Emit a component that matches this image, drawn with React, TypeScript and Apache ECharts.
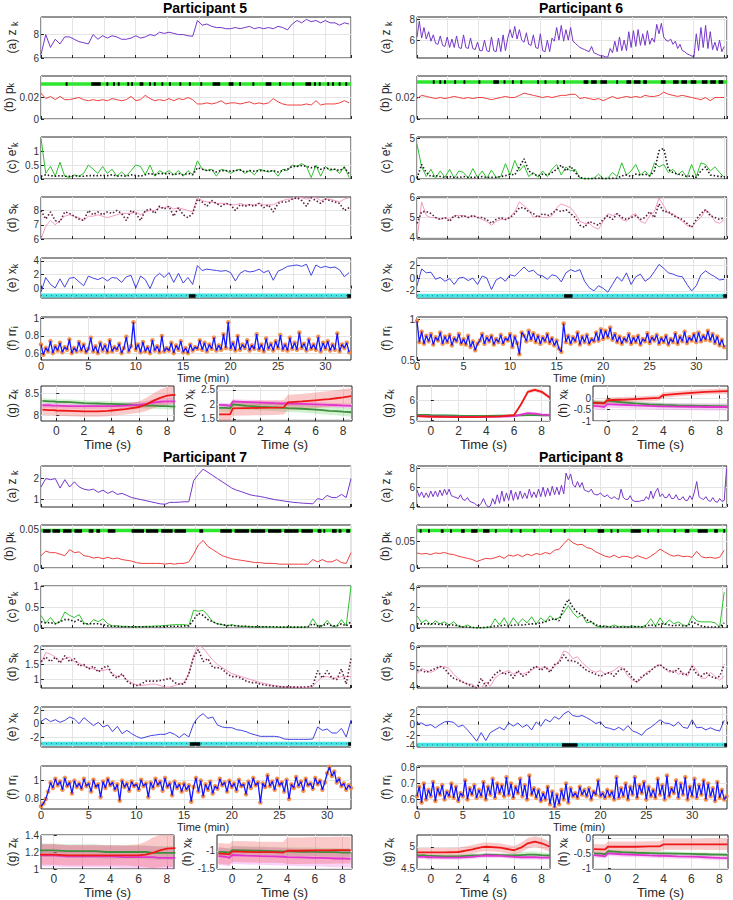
import React, { useEffect, useRef } from "react";
import * as echarts from "echarts";

// ---------- shared ----------
const TS = [-1, -0.5, -0.2, 0, 1, 2, 3, 3.7, 4, 5, 6, 6.5, 7, 7.5, 8, 8.6];
const TICKS_S = [0, 2, 4, 6, 8];
const TICKS_MIN = [0, 5, 10, 15, 20, 25, 30];

// ---------- Participant 5 ----------
const p5Z = [6.3,8.0,6.9,7.6,7.2,7.8,7.8,7.6,7.4,7.3, 7.2,8.0,7.6,7.9,7.7,7.9,7.8,7.6,7.6,7.7, 7.9,7.7,7.8,8.0,7.9,8.2,8.1,8.2,8.1,8.0, 8.0,7.9,7.85,9.2,8.8,8.9,8.7,8.6,8.6,8.5, 8.5,8.6,8.5,8.6,8.7,8.5,8.6,8.5,8.6,8.5, 8.7,8.6,8.4,8.9,9.2,9.0,9.3,9.1,9.2,9.0, 9.2,9.0,9.0,8.8,9.0,8.9];
const p5P = [0.024,0.019,0.021,0.018,0.021,0.018,0.018,0.019,0.020,0.018, 0.017,0.018,0.017,0.018,0.017,0.019,0.018,0.017,0.018,0.021, 0.017,0.018,0.022,0.019,0.017,0.018,0.017,0.019,0.017,0.019, 0.018,0.020,0.018,0.014,0.014,0.015,0.014,0.015,0.017,0.014, 0.015,0.015,0.014,0.015,0.016,0.014,0.015,0.014,0.015,0.019, 0.016,0.014,0.013,0.013,0.013,0.013,0.014,0.013,0.017,0.013, 0.014,0.014,0.014,0.015,0.017,0.015];
const p5E = [1.45,0.2,0.45,0.1,0.6,0.1,0.05,0.15,0.1,0.2, 0.5,0.35,0.2,0.45,0.2,0.35,0.1,0.25,0.1,0.3, 0.5,0.45,0.15,0.5,0.1,0.3,0.2,0.3,0.15,0.3, 0.1,0.3,0.15,0.65,0.35,0.3,0.35,0.1,0.35,0.3, 0.2,0.3,0.35,0.2,0.3,0.15,0.35,0.3,0.25,0.3, 0.1,0.35,0.3,0.5,0.45,0.55,0.45,0.05,0.5,0.1, 0.45,0.3,0.35,0.2,0.45,0.05];
const p5Ed = [0.10,0.15,0.12,0.10,0.12,0.10,0.10,0.12,0.10,0.10, 0.12,0.12,0.12,0.13,0.12,0.15,0.10,0.12,0.10,0.15, 0.12,0.10,0.15,0.20,0.15,0.20,0.18,0.20,0.15,0.20, 0.15,0.20,0.15,0.40,0.35,0.30,0.32,0.25,0.30,0.30, 0.28,0.30,0.32,0.25,0.30,0.28,0.30,0.30,0.28,0.30, 0.25,0.30,0.35,0.45,0.45,0.48,0.45,0.40,0.45,0.35, 0.40,0.35,0.35,0.30,0.40,0.20];
const p5S = [6.0,6.9,7.3,7.0,7.3,7.6,7.7,7.6,7.5,7.3, 7.6,7.6,7.7,7.6,7.5,7.6,7.7,7.8,7.8,7.8, 7.9,7.7,7.9,8.0,8.0,8.2,8.2,8.3,8.1,8.2, 8.1,8.0,7.9,8.9,8.7,8.6,8.6,8.5,8.5,8.5, 8.4,8.4,8.5,8.4,8.4,8.4,8.5,8.4,8.4,8.4, 8.6,8.7,8.8,8.8,8.9,8.9,8.8,8.9,8.9,8.7, 8.8,8.8,8.7,8.6,8.8,8.9];
const p5Sd = [8.0,7.4,7.9,7.3,7.2,7.9,7.8,7.6,7.4,7.3, 8.0,7.7,7.9,7.7,7.9,7.8,8.0,7.8,7.3,8.0, 7.8,7.3,8.0,8.1,7.8,8.3,8.1,8.3,7.6,8.2, 7.7,7.5,7.8,8.8,8.6,8.3,8.7,8.5,8.3,8.5, 8.4,8.0,8.4,8.3,8.4,8.3,8.5,8.2,8.4,7.9, 8.5,8.6,8.6,8.8,8.9,8.7,8.3,8.9,8.7,8.5, 8.8,8.7,8.6,8.5,8.0,8.2];
const p5X = [-0.5,1.6,0.6,0.1,1.4,0.2,1.5,1.6,1.0,0.4, 1.8,1.5,1.3,1.6,1.1,1.6,1.5,0.9,1.7,1.9, 0.1,1.8,1.3,0.0,1.6,2.2,1.6,2.3,0.9,2.2, 0.8,1.6,0.6,3.3,2.6,2.8,2.7,2.6,2.5,2.6, 2.3,1.1,2.2,2.6,2.4,2.5,2.8,2.3,2.6,1.2, 2.5,2.8,3.2,3.3,3.4,3.2,3.5,1.9,3.4,3.0, 3.2,3.0,3.1,2.7,1.7,2.3];
const p5RR = [0.70,0.58,0.66,0.62,0.74,0.60,0.68,0.63,0.72,0.61,0.67,0.64,0.76,0.60,0.66,0.62,0.73,0.63,0.70,0.61, 0.65,0.78,0.62,0.68,0.60,0.72,0.63,0.69,0.61,0.75,0.62,0.67,0.64,0.71,0.60,0.66,0.79,0.62,0.68,0.96, 0.64,0.70,0.61,0.73,0.62,0.67,0.60,0.75,0.63,0.68,0.61,0.80,0.62,0.66,0.63,0.72,0.60,0.69,0.64,0.74, 0.61,0.66,0.60,0.70,0.63,0.67,0.65,0.75,0.64,0.72,0.62,0.70,0.65,0.78,0.63,0.69,0.64,0.82,0.66,0.96, 0.65,0.72,0.63,0.80,0.64,0.70,0.66,0.75,0.63,0.69,0.65,0.82,0.64,0.70,0.62,0.77,0.65,0.71,0.63,0.74, 0.66,0.81,0.64,0.70,0.63,0.78,0.65,0.72,0.64,0.84,0.66,0.71,0.63,0.76,0.65,0.70,0.64,0.79,0.62,0.72, 0.65,0.74,0.63,0.70,0.64,0.83,0.62,0.70,0.66,0.72,0.61];
const p5PEv = [[2.6,2.8],[5.3,6.3],[6.9,7.1],[7.6,7.8],[8.1,8.3],[9.1,9.3],[9.5,9.7],[10.4,10.8],[11.4,11.6],[11.9,12.1],[12.7,12.9],[13.5,13.7],[14.6,14.8],[15.6,15.8],[16.8,17.0],[18.1,18.9],[19.8,20.3],[20.9,21.1],[22.3,22.5],[23.7,24.3],[25.1,25.3],[26.5,26.7],[27.9,28.5],[28.8,29.0],[29.3,29.5],[30.2,30.4],[30.7,30.9],[31.4,31.6],[32.1,32.3]];
const p5XEv = [[15.6,16.3],[32.3,32.7]];
const p5gG = [8.33,8.32,8.32,8.31,8.30,8.28,8.27,8.26,8.26,8.25,8.23,8.22,8.22,8.21,8.21,8.20];
const p5gM = [8.23,8.23,8.22,8.22,8.21,8.21,8.21,8.21,8.21,8.22,8.24,8.26,8.29,8.31,8.32,8.32];
const p5gR = [8.13,8.12,8.12,8.11,8.10,8.09,8.09,8.10,8.11,8.14,8.19,8.25,8.33,8.40,8.45,8.47];
const p5gGw = [0.06,0.06,0.06,0.06,0.06,0.06,0.06,0.06,0.06,0.06,0.07,0.07,0.07,0.07,0.07,0.07];
const p5gMw = [0.06,0.06,0.06,0.06,0.06,0.06,0.06,0.06,0.06,0.07,0.07,0.07,0.08,0.08,0.08,0.08];
const p5gRw = [0.12,0.12,0.12,0.12,0.12,0.12,0.12,0.12,0.12,0.12,0.13,0.15,0.17,0.19,0.20,0.20];
const p5hG = [1.88,1.88,1.86,2.00,1.95,1.92,1.90,1.88,1.87,1.85,1.82,1.80,1.78,1.77,1.75,1.73];
const p5hM = [1.98,1.97,1.95,2.10,2.08,2.06,2.04,2.03,2.03,2.02,2.00,1.99,1.98,1.97,1.96,1.95];
const p5hR = [1.66,1.66,1.66,1.86,1.87,1.88,1.89,1.90,2.07,2.10,2.14,2.16,2.18,2.21,2.24,2.28];
const p5hGw = [0.13,0.13,0.13,0.13,0.13,0.13,0.13,0.13,0.13,0.13,0.14,0.14,0.14,0.14,0.15,0.15];
const p5hMw = [0.08,0.08,0.08,0.08,0.08,0.08,0.08,0.08,0.08,0.08,0.08,0.08,0.08,0.08,0.08,0.08];
const p5hRw = [0.25,0.25,0.25,0.25,0.25,0.25,0.25,0.25,0.26,0.26,0.27,0.27,0.28,0.28,0.28,0.28];

// ---------- Participant 6 ----------
const p6Z = [6.3,7.8,6.2,7.2,6.1,6.8,5.9,6.5,5.7,5.6,6.4,5.5,5.4,6.3,5.3,6.1,5.3,6.4,5.3,5.2, 6.5,5.3,5.2,6.2,5.2,5.1,5.8,5.0,5.0,6.0,5.0,4.9,6.3,5.0,4.9,6.2,4.9,6.5,5.0,6.2, 7.0,6.2,7.3,6.1,7.0,6.0,5.8,6.7,5.6,5.5,6.5,5.3,5.2,6.6,5.0,4.9,6.0,4.9,6.2,5.9, 7.2,6.0,7.4,5.9,7.0,6.0,7.2,5.9,5.7,5.5,5.3,5.2,5.1,5.0,4.9,5.4,4.8,4.7,4.6,4.5, 4.5,4.4,4.4,5.2,4.8,5.9,4.9,6.3,5.0,6.0,5.0,6.8,5.3,6.9,5.4,7.0,5.5,6.6,5.5,6.9, 5.6,6.2,5.8,7.5,6.6,7.6,6.3,6.0,5.9,6.1,5.6,5.9,5.2,5.6,5.0,4.9,4.7,4.6,4.5,4.4, 6.6,5.0,7.2,5.3,7.4,5.2,6.8,5.1,5.8,5.0,6.0,4.9,5.4];
const p6P = [0.019,0.022,0.021,0.020,0.019,0.020,0.019,0.020,0.021,0.020, 0.019,0.020,0.019,0.020,0.020,0.019,0.018,0.019,0.020,0.021, 0.020,0.020,0.022,0.024,0.023,0.022,0.021,0.020,0.021,0.020, 0.021,0.022,0.022,0.023,0.023,0.019,0.020,0.019,0.018,0.019, 0.017,0.019,0.021,0.019,0.020,0.021,0.020,0.021,0.020,0.022, 0.021,0.021,0.022,0.025,0.023,0.022,0.021,0.022,0.021,0.020, 0.019,0.018,0.020,0.017,0.020,0.020,0.020];
const p6E = [4.3,1.5,0.3,1.2,0.1,1.0,0.2,1.2,0.1,1.0, 0.8,0.1,1.3,0.2,1.0,0.1,1.1,0.2,0.3,1.9, 0.5,2.3,1.0,1.7,0.3,0.8,0.2,1.0,0.3,1.2, 1.8,0.5,1.5,1.0,1.2,0.1,0.05,0.05,0.1,0.6, 0.05,0.1,0.8,0.3,2.0,0.5,1.0,1.8,0.5,1.0, 0.3,2.0,1.5,1.8,0.8,1.2,0.5,1.0,0.2,1.8, 0.3,2.0,1.8,1.0,1.5,0.8,0.2];
const p6Ed = [0.1,1.8,0.8,0.3,0.4,0.3,0.2,0.3,0.2,0.2, 0.3,0.2,0.2,0.2,0.3,0.2,0.2,0.2,0.3,0.4, 0.6,0.5,1.5,2.5,1.0,0.6,0.4,0.6,0.5,0.8, 1.2,1.7,1.0,1.6,0.8,0.2,0.05,0.05,0.05,0.1, 0.05,0.05,0.1,0.1,0.4,0.5,0.3,0.6,0.5,0.6, 0.4,1.0,3.5,3.8,1.2,0.8,0.6,0.5,0.3,0.4, 0.2,1.0,1.5,0.5,0.4,0.3,0.3];
const p6S = [3.9,5.8,5.1,5.0,5.0,4.9,5.0,4.9,5.1,5.1, 5.1,5.0,5.1,5.0,4.9,4.8,4.6,4.8,4.9,4.9, 5.0,5.3,5.8,5.6,5.4,5.0,5.1,5.0,5.0,5.1, 5.5,5.7,5.6,5.5,5.2,4.8,4.7,4.7,4.5,4.4, 4.8,5.2,5.1,5.2,4.9,4.8,5.1,5.2,4.8,4.7, 5.1,5.3,6.0,5.6,5.2,5.2,5.0,4.8,4.6,4.5, 4.8,5.0,5.4,5.2,4.8,4.7,4.9];
const p6Sd = [4.7,5.3,5.3,5.2,5.0,4.9,5.0,4.8,5.1,5.0, 5.1,5.0,5.1,5.0,5.0,4.9,4.7,4.9,5.0,4.9, 5.0,5.2,5.5,5.5,5.3,5.2,5.0,5.2,5.1,5.2, 5.4,5.3,5.4,5.2,5.0,4.6,4.5,4.8,4.7,4.6, 4.9,5.1,4.9,5.2,5.0,4.9,5.0,5.1,4.9,5.0, 5.3,5.0,5.7,5.3,5.3,5.1,5.0,4.9,4.7,4.5, 4.9,5.2,5.4,5.1,5.0,4.9,5.0];
const p6X = [-1.2,1.4,0.8,0.9,-0.2,0.1,-0.5,-0.1,-1.0,0.0, 0.1,-0.4,0.0,-1.0,0.3,0.0,-1.8,-0.3,0.1,-0.5, 0.5,0.3,1.0,1.7,1.0,1.2,0.5,0.3,-0.2,0.5, 0.3,-0.6,0.8,1.3,1.0,1.3,-0.5,-1.5,-2.0,-1.2, -1.6,-2.2,-1.0,0.2,-0.5,0.8,-1.0,0.2,0.6,-0.5, 0.0,1.0,2.1,1.5,0.8,0.6,0.3,0.2,-1.0,-2.0, -1.2,0.5,1.1,0.6,0.2,-0.3,-0.2];
const p6RR = [0.98,0.72,0.85,0.70,0.80,0.73,0.82,0.69,0.78,0.74,0.84,0.70,0.79,0.72,0.81,0.68,0.77,0.73,0.82,0.70, 0.76,0.69,0.80,0.66,0.73,0.62,0.70,0.74,0.82,0.70,0.78,0.73,0.80,0.69,0.76,0.72,0.81,0.70,0.77,0.74, 0.82,0.66,0.79,0.71,0.57,0.84,0.80,0.73,0.86,0.75,0.83,0.72,0.80,0.70,0.78,0.73,0.82,0.71,0.77,0.68, 0.74,0.64,0.60,0.95,0.72,0.80,0.70,0.78,0.73,0.84,0.69,0.79,0.72,0.81,0.70,0.76,0.73,0.84,0.74,0.88, 0.76,0.86,0.78,0.90,0.75,0.82,0.72,0.79,0.70,0.77,0.73,0.82,0.70,0.78,0.72,0.80,0.69,0.76,0.73,0.83, 0.71,0.78,0.74,0.81,0.70,0.77,0.72,0.80,0.69,0.76,0.72,0.83,0.70,0.79,0.73,0.85,0.71,0.78,0.74,0.82, 0.72,0.84,0.73,0.80,0.75,0.86,0.74,0.82,0.71,0.79,0.68,0.75,0.66];
const p6PEv = [[1.7,1.9],[2.4,2.6],[2.9,3.1],[4.0,4.2],[5.0,5.2],[6.6,6.8],[8.2,8.8],[9.3,9.5],[10.2,10.4],[11.1,11.3],[12.9,13.1],[13.7,13.9],[15.0,15.2],[15.7,15.9],[17.9,18.4],[18.7,19.3],[19.7,20.4],[21.4,21.6],[22.5,23.0],[23.3,24.0],[24.3,24.7],[26.2,26.7],[27.5,28.1],[28.4,29.0],[29.4,30.0],[30.6,31.2],[31.5,32.1],[32.4,32.9]];
const p6XEv = [[15.8,16.7],[32.9,33.3]];
const p6gG = [5.27,5.26,5.26,5.25,5.24,5.22,5.21,5.21,5.21,5.22,5.23,5.24,5.25,5.25,5.24,5.24];
const p6gM = [5.20,5.19,5.19,5.18,5.17,5.16,5.16,5.16,5.16,5.17,5.20,5.28,5.35,5.33,5.28,5.25];
const p6gR = [5.20,5.19,5.18,5.18,5.16,5.15,5.15,5.16,5.17,5.19,5.25,5.80,6.45,6.55,6.45,6.15];
const p6gGw = [0.05,0.05,0.05,0.05,0.05,0.05,0.05,0.05,0.05,0.05,0.05,0.05,0.05,0.05,0.05,0.05];
const p6gMw = [0.05,0.05,0.05,0.05,0.05,0.05,0.05,0.05,0.05,0.05,0.06,0.07,0.08,0.08,0.08,0.08];
const p6gRw = [0.05,0.05,0.05,0.05,0.05,0.05,0.05,0.05,0.05,0.05,0.06,0.08,0.10,0.10,0.10,0.10];
const p6hG = [-0.18,-0.19,-0.20,-0.10,-0.17,-0.22,-0.26,-0.28,-0.29,-0.31,-0.32,-0.33,-0.33,-0.34,-0.34,-0.35];
const p6hM = [-0.33,-0.35,-0.38,-0.25,-0.28,-0.31,-0.33,-0.35,-0.35,-0.36,-0.37,-0.37,-0.38,-0.38,-0.38,-0.38];
const p6hR = [-0.20,-0.21,-0.22,-0.08,-0.06,-0.03,0.00,0.02,0.15,0.20,0.25,0.27,0.29,0.30,0.31,0.32];
const p6hGw = [0.10,0.10,0.10,0.10,0.10,0.10,0.10,0.10,0.10,0.10,0.10,0.10,0.10,0.10,0.10,0.10];
const p6hMw = [0.15,0.15,0.15,0.15,0.15,0.15,0.15,0.15,0.15,0.15,0.15,0.15,0.15,0.15,0.15,0.15];
const p6hRw = [0.12,0.12,0.12,0.12,0.12,0.12,0.12,0.12,0.12,0.12,0.12,0.12,0.12,0.12,0.12,0.12];

// ---------- Participant 7 ----------
const p7Z = [1.6,2.0,1.95,2.0,1.55,1.95,1.6,1.85,1.6,1.5, 1.45,1.5,1.35,1.45,1.3,1.4,1.25,1.3,1.2,1.1, 1.05,1.0,0.95,0.9,0.85,0.8,0.78,0.87,0.87,0.88, 0.9,0.9,1.9,2.2,2.45,2.3,2.15,2.0,1.85,1.7, 1.55,1.45,1.38,1.3,1.22,1.18,1.15,1.1,1.05,1.0, 0.97,0.93,0.9,0.87,0.85,0.83,0.82,0.8,1.05,1.0, 1.2,1.1,1.1,1.25,1.1,2.0];
const p7P = [0.016,0.022,0.020,0.020,0.018,0.016,0.024,0.020,0.021,0.016, 0.015,0.013,0.014,0.012,0.014,0.012,0.013,0.011,0.010,0.009, 0.007,0.006,0.006,0.006,0.006,0.006,0.005,0.006,0.005,0.006, 0.006,0.008,0.018,0.030,0.036,0.028,0.024,0.020,0.016,0.014, 0.012,0.011,0.010,0.009,0.008,0.007,0.007,0.006,0.006,0.006, 0.005,0.005,0.005,0.005,0.005,0.005,0.005,0.011,0.008,0.011, 0.008,0.008,0.011,0.007,0.006,0.020];
const p7E = [0.3,0.12,0.25,0.1,0.15,0.38,0.3,0.25,0.32,0.12, 0.08,0.2,0.15,0.22,0.1,0.05,0.05,0.04,0.04,0.03, 0.03,0.03,0.04,0.04,0.05,0.05,0.06,0.07,0.08,0.08, 0.08,0.06,0.42,0.4,0.42,0.3,0.15,0.1,0.08,0.05, 0.08,0.05,0.04,0.04,0.03,0.03,0.03,0.03,0.02,0.02, 0.02,0.02,0.02,0.02,0.02,0.02,0.02,0.22,0.05,0.05, 0.18,0.04,0.04,0.2,0.05,1.0];
const p7Ed = [0.15,0.12,0.13,0.1,0.15,0.2,0.2,0.15,0.2,0.1, 0.1,0.1,0.1,0.08,0.05,0.04,0.04,0.03,0.03,0.03, 0.03,0.03,0.03,0.03,0.03,0.03,0.04,0.04,0.04,0.04, 0.05,0.05,0.2,0.35,0.3,0.2,0.15,0.1,0.08,0.06, 0.06,0.05,0.04,0.04,0.03,0.03,0.03,0.03,0.03,0.03, 0.02,0.02,0.02,0.02,0.02,0.02,0.03,0.1,0.05,0.05, 0.1,0.05,0.05,0.1,0.05,0.15];
const p7S = [1.55,1.9,1.85,1.75,1.6,1.7,1.75,1.6,1.55,1.45, 1.4,1.35,1.3,1.3,1.35,1.2,1.1,1.15,1.0,0.9, 0.82,0.8,0.82,0.85,0.85,0.8,0.75,0.75,0.8,0.85, 0.9,1.2,1.8,2.15,2.05,1.85,1.65,1.5,1.4,1.3, 1.2,1.15,1.1,1.05,1.0,0.95,0.9,0.87,0.83,0.8, 0.78,0.77,0.75,0.75,0.74,0.74,0.74,0.78,0.95,1.1, 1.1,1.05,1.05,1.1,1.1,1.1];
const p7Sd = [1.6,1.75,1.6,1.75,1.55,1.8,1.6,1.7,1.45,1.5, 1.35,1.45,1.25,1.4,1.45,1.15,1.05,1.2,0.95,0.85, 0.8,0.85,0.95,0.95,0.95,0.97,1.0,1.05,0.9,0.85, 0.85,1.2,1.75,2.0,1.6,1.7,1.4,1.4,1.35,1.2, 1.1,1.1,1.05,0.95,0.9,0.9,0.85,0.82,0.8,0.78, 0.76,0.75,0.75,0.75,0.75,0.75,0.76,0.8,1.3,1.05, 1.3,1.05,1.0,1.35,0.85,1.7];
const p7X = [0.3,0.8,0.3,0.6,0.2,0.5,1.0,0.7,0.0,0.9, 0.3,-0.3,0.2,-0.5,-0.2,-1.2,-0.4,-1.5,-1.0,-1.5, -1.9,-2.2,-2.0,-1.8,-1.7,-1.6,-1.6,-1.3,-1.6,-2.1, -1.5,-2.0,0.0,1.0,1.5,0.8,1.0,-0.2,-0.5,-0.6, -0.6,-0.9,-1.0,-1.2,-1.5,-1.7,-1.9,-1.9,-1.9,-1.9, -2.0,-2.3,-2.35,-2.35,-2.35,-2.35,-2.35,-2.3,-0.5,-1.0, -0.8,-1.4,-1.4,-0.7,-2.0,0.5];
const p7RR = [0.72,0.75,0.80,0.88,0.98,0.92,1.02,0.95,0.99,0.90,1.03,0.94,0.98,0.86,1.00,0.93,0.97,0.91,1.02,0.94, 0.97,0.88,1.01,0.93,0.96,0.82,0.99,0.92,1.02,0.95,0.98,0.90,0.96,0.78,1.00,0.93,0.97,0.89,0.99,0.94, 0.96,0.90,1.01,0.94,0.97,0.82,0.98,0.92,1.02,0.95,0.99,0.89,1.03,0.93,0.97,0.84,0.99,0.92,0.96,0.88, 0.97,0.90,0.95,0.77,0.93,1.03,0.88,1.00,0.83,0.96,0.90,0.99,0.86,0.94,0.91,1.02,0.95,0.98,0.88,1.00, 0.93,0.97,0.89,1.01,0.94,0.96,0.85,0.99,0.92,1.03,0.95,0.98,0.76,0.97,0.93,1.06,0.94,0.99,0.90,1.02, 0.95,0.98,0.88,1.01,0.80,0.96,0.92,1.04,0.94,0.99,0.89,1.02,0.95,0.97,0.91,1.03,0.96,1.00,0.90,0.98, 1.08,1.15,1.05,1.10,0.98,1.02,0.94,0.97,0.90,0.95,0.92];
const p7PEv = [[0.2,1.0],[1.2,2.0],[2.3,3.2],[3.5,4.3],[5.0,5.5],[5.8,6.2],[7.0,7.8],[9.5,10.8],[11.0,12.3],[12.6,13.8],[14.0,15.2],[16.6,17.0],[18.8,20.0],[20.3,21.8],[22.0,23.5],[23.8,25.2],[25.5,27.0],[27.3,28.5],[29.0,29.4],[29.6,29.8],[30.5,31.0],[31.2,31.5],[32.0,32.4]];
const p7XEv = [[15.6,16.7],[32.2,32.5]];
const p7gG = [1.22,1.22,1.22,1.22,1.21,1.21,1.21,1.20,1.20,1.20,1.20,1.20,1.19,1.19,1.19,1.19];
const p7gM = [1.16,1.16,1.16,1.16,1.15,1.15,1.15,1.15,1.15,1.14,1.14,1.14,1.14,1.13,1.13,1.13];
const p7gR = [1.17,1.17,1.17,1.17,1.16,1.16,1.16,1.16,1.16,1.16,1.16,1.17,1.19,1.22,1.24,1.245];
const p7gGw = [0.08,0.08,0.08,0.08,0.08,0.08,0.08,0.08,0.08,0.08,0.08,0.08,0.08,0.08,0.08,0.08];
const p7gMw = [0.13,0.13,0.13,0.13,0.13,0.13,0.13,0.13,0.13,0.13,0.13,0.13,0.13,0.13,0.13,0.13];
const p7gRw = [0.12,0.12,0.12,0.12,0.12,0.12,0.12,0.12,0.12,0.12,0.13,0.15,0.18,0.20,0.21,0.22];
const p7hG = [-1.03,-1.04,-1.05,-0.98,-0.99,-1.00,-1.01,-1.02,-1.02,-1.03,-1.03,-1.04,-1.04,-1.04,-1.05,-1.05];
const p7hM = [-1.15,-1.17,-1.20,-1.12,-1.14,-1.15,-1.16,-1.17,-1.18,-1.19,-1.20,-1.20,-1.21,-1.22,-1.22,-1.23];
const p7hR = [-1.08,-1.09,-1.10,-1.02,-1.03,-1.04,-1.04,-1.05,-1.00,-1.00,-0.99,-0.99,-0.99,-0.98,-0.98,-0.98];
const p7hGw = [0.12,0.12,0.12,0.12,0.12,0.12,0.12,0.12,0.12,0.12,0.12,0.12,0.12,0.12,0.12,0.12];
const p7hMw = [0.25,0.25,0.25,0.25,0.25,0.25,0.25,0.25,0.25,0.25,0.25,0.25,0.25,0.25,0.25,0.25];
const p7hRw = [0.30,0.30,0.30,0.30,0.30,0.30,0.30,0.30,0.38,0.38,0.38,0.38,0.38,0.38,0.38,0.38];

// ---------- Participant 8 ----------
const p8Z = [5.7,5.0,5.5,4.9,5.4,4.9,5.6,5.0,5.6,5.0,5.7,5.1,5.8,5.2,5.8,5.1,5.0,4.9,4.8,5.2, 4.7,4.6,4.9,4.5,4.4,4.3,4.1,4.0,4.3,4.8,4.2,3.9,4.0,4.8,4.2,5.2,4.3,5.6,4.5,5.4, 4.6,5.7,4.6,5.5,4.7,5.6,4.8,5.4,4.8,5.8,4.9,5.5,4.9,5.8,5.0,6.0,5.0,5.9,5.1,6.1, 5.2,6.0,5.2,6.2,5.3,7.5,6.8,7.4,6.3,6.0,6.6,6.0,6.5,5.7,5.6,5.5,5.8,5.3,5.2,5.2, 5.4,5.1,5.0,5.2,4.9,4.8,5.0,4.8,4.7,5.8,4.9,4.7,4.7,5.1,4.6,4.5,4.5,4.5,4.6,4.6, 5.0,4.7,5.6,4.8,5.5,5.9,5.0,5.3,4.9,4.9,5.3,4.8,4.8,5.2,4.7,4.7,5.0,4.6,4.6,5.1, 4.7,5.5,6.6,5.0,4.8,4.7,5.0,4.6,4.5,4.9,4.5,4.4,4.8,4.5,4.6,8.0];
const p8P = [0.028,0.026,0.027,0.025,0.028,0.027,0.029,0.026,0.025,0.022, 0.020,0.018,0.016,0.012,0.015,0.018,0.017,0.019,0.022,0.018, 0.024,0.022,0.025,0.021,0.026,0.023,0.027,0.025,0.029,0.026, 0.033,0.035,0.045,0.054,0.047,0.043,0.044,0.038,0.036,0.030, 0.026,0.022,0.020,0.024,0.019,0.022,0.021,0.018,0.023,0.020, 0.017,0.022,0.028,0.035,0.030,0.025,0.022,0.024,0.021,0.022, 0.020,0.031,0.021,0.019,0.020,0.018,0.020,0.033];
const p8E = [1.2,0.5,0.8,0.3,0.7,0.4,0.6,0.3,0.6,0.2, 0.1,0.3,0.05,0.0,0.0,0.05,0.1,0.9,0.3,1.0, 0.2,1.0,0.4,0.9,0.5,1.1,0.4,1.0,0.6,1.2, 0.8,1.0,1.5,2.2,1.5,1.0,1.3,0.5,0.6,0.2, 0.1,0.2,0.1,0.3,0.1,0.2,0.1,0.2,0.1,0.1, 0.3,0.9,0.2,1.0,0.3,0.8,0.4,0.6,0.3,0.2, 1.2,0.7,0.6,0.6,0.6,0.5,0.1,3.5];
const p8Ed = [0.4,0.4,0.4,0.4,0.4,0.35,0.35,0.3,0.3,0.2, 0.1,0.1,0.05,0.02,0.02,0.05,0.1,0.2,0.2,0.3, 0.2,0.3,0.3,0.3,0.35,0.4,0.4,0.5,0.6,0.8, 0.9,0.7,2.0,2.8,2.0,1.5,1.3,0.8,0.6,0.3, 0.2,0.15,0.1,0.1,0.1,0.1,0.1,0.1,0.15,0.1, 0.2,0.3,0.2,0.4,0.4,0.3,0.2,0.3,0.2,0.2, 0.6,0.4,0.2,0.1,0.1,0.1,0.1,0.5];
const p8S = [4.6,4.9,4.8,4.7,4.8,5.0,5.0,4.9,4.6,4.4, 4.2,4.1,4.1,3.9,3.9,4.2,4.0,4.4,4.6,4.7, 4.8,4.6,4.7,4.6,4.7,4.8,5.0,4.9,5.0,4.8, 5.0,5.3,5.8,5.7,5.4,5.5,5.2,5.0,4.8,4.7, 4.8,4.6,4.7,4.8,5.0,4.9,4.5,4.3,4.2,4.4, 4.7,4.8,5.0,5.1,4.9,4.7,4.8,4.6,4.7,4.5, 5.1,4.8,4.4,4.4,4.7,4.5,4.3,4.5];
const p8Sd = [4.8,4.8,4.7,4.8,4.9,5.0,4.9,4.6,4.4,4.3, 4.2,4.1,4.0,3.9,4.4,4.0,4.3,4.6,4.8,4.6, 4.7,4.4,4.8,4.5,4.6,4.9,5.0,4.8,5.0,4.7, 5.1,5.2,5.6,5.3,5.3,5.2,5.0,4.8,4.7,4.6, 4.5,4.6,4.7,4.5,4.8,4.9,4.7,4.4,4.2,4.5, 4.6,4.8,5.0,5.1,4.9,4.8,4.7,4.9,4.6,4.6, 5.0,4.6,4.5,4.7,4.5,4.4,4.5,5.1];
const p8X = [0.2,0.3,-0.2,0.0,-0.6,0.0,0.5,0.6,0.4,-0.4, -0.1,-1.0,-2.0,-3.1,-1.5,-3.0,-1.5,-1.0,-0.5,-1.0, 0.3,-0.3,0.3,-0.5,0.0,-1.0,0.5,-0.3,1.0,0.5, 1.5,1.0,2.0,2.5,1.7,1.5,1.7,1.3,0.8,0.2, 0.5,-0.5,-0.7,-1.0,-0.5,-1.1,-0.2,-1.2,-1.5,-2.0, -1.0,-0.5,0.2,0.9,0.3,0.2,-0.3,0.5,-0.5,-0.7, 0.9,-0.6,-0.5,-1.0,-0.6,-1.0,-1.2,0.8];
const p8RR = [0.62,0.68,0.58,0.70,0.60,0.66,0.62,0.71,0.59,0.67,0.63,0.69,0.60,0.65,0.62,0.70,0.61,0.68,0.59,0.64, 0.62,0.72,0.60,0.67,0.63,0.69,0.61,0.66,0.62,0.71,0.60,0.68,0.63,0.73,0.61,0.70,0.64,0.69,0.62,0.74, 0.63,0.70,0.61,0.68,0.64,0.73,0.62,0.69,0.60,0.75,0.63,0.67,0.61,0.66,0.59,0.64,0.60,0.68,0.57,0.65, 0.55,0.63,0.57,0.66,0.60,0.70,0.58,0.67,0.62,0.64,0.61,0.68,0.63,0.66,0.62,0.67,0.60,0.65,0.63,0.72, 0.62,0.64,0.61,0.66,0.62,0.65,0.60,0.74,0.61,0.67,0.62,0.70,0.60,0.68,0.63,0.74,0.61,0.69,0.64,0.71, 0.60,0.68,0.62,0.66,0.61,0.73,0.63,0.69,0.60,0.75,0.62,0.67,0.64,0.72,0.61,0.70,0.63,0.74,0.60,0.68, 0.62,0.73,0.61,0.69,0.63,0.72,0.60,0.70,0.62,0.67,0.59,0.71,0.61,0.66,0.60,0.62];
const p8PEv = [[0.3,0.5],[1.2,1.4],[2.6,2.9],[3.6,3.8],[4.8,5.2],[5.9,6.6],[7.2,7.9],[8.5,8.7],[10.2,10.4],[11.2,11.4],[12.7,12.9],[14.5,14.7],[16.0,16.2],[18.2,18.4],[19.7,20.4],[21.1,21.3],[21.8,22.0],[23.3,24.4],[25.1,25.3],[26.2,26.4],[28.0,28.2],[29.2,29.7],[30.6,31.7],[32.4,32.8],[33.4,33.6]];
const p8XEv = [[15.8,17.5],[33.5,33.8]];
const p8gG = [4.80,4.80,4.79,4.79,4.78,4.78,4.80,4.81,4.82,4.81,4.80,4.81,4.82,4.82,4.81,4.80];
const p8gM = [4.77,4.77,4.76,4.76,4.75,4.75,4.77,4.79,4.80,4.79,4.77,4.76,4.76,4.76,4.75,4.75];
const p8gR = [4.87,4.87,4.87,4.87,4.87,4.88,4.94,4.99,5.00,4.98,4.92,4.98,5.08,5.12,5.08,5.00];
const p8gGw = [0.04,0.04,0.04,0.04,0.04,0.04,0.04,0.04,0.04,0.04,0.05,0.07,0.07,0.07,0.06,0.05];
const p8gMw = [0.05,0.05,0.05,0.05,0.05,0.05,0.05,0.05,0.05,0.05,0.05,0.05,0.05,0.05,0.05,0.05];
const p8gRw = [0.10,0.10,0.10,0.10,0.10,0.10,0.10,0.10,0.10,0.10,0.10,0.11,0.12,0.12,0.12,0.12];
const p8hG = [-0.50,-0.51,-0.53,-0.43,-0.46,-0.48,-0.49,-0.50,-0.50,-0.51,-0.52,-0.53,-0.53,-0.54,-0.54,-0.55];
const p8hM = [-0.56,-0.58,-0.60,-0.50,-0.53,-0.55,-0.57,-0.58,-0.58,-0.60,-0.61,-0.62,-0.63,-0.64,-0.65,-0.66];
const p8hR = [-0.36,-0.37,-0.37,-0.28,-0.28,-0.28,-0.27,-0.27,-0.20,-0.20,-0.20,-0.20,-0.20,-0.20,-0.20,-0.20];
const p8hGw = [0.06,0.06,0.06,0.06,0.06,0.06,0.06,0.06,0.06,0.06,0.06,0.06,0.06,0.06,0.06,0.06];
const p8hMw = [0.08,0.08,0.08,0.08,0.08,0.08,0.08,0.08,0.08,0.08,0.08,0.08,0.08,0.08,0.08,0.08];
const p8hRw = [0.17,0.17,0.17,0.17,0.17,0.17,0.17,0.17,0.18,0.18,0.18,0.18,0.19,0.19,0.19,0.19];

// ---------- styling ----------
const FONT = "'Liberation Sans', Arial, Helvetica, sans-serif";
const COL = {
  z: "#7637c8", p: "#ee4040", pBand: "#2ee62e", e: "#2fc02f", dot: "#1a1a1a",
  s: "#f29bc1", sd: "#5c1f3d", x: "#4444e0", xBand: "#44e4e4", rr: "#1515ff", rrO: "#f5883c",
  gG: "#3f8f3f", gM: "#e233cf", gR: "#ee1818",
  bG: "rgba(90,205,90,0.28)", bM: "rgba(235,90,225,0.28)", bR: "rgba(240,80,80,0.30)",
};
const RICH = {
  n: { fontSize: 12, fontFamily: FONT, color: "#262626", lineHeight: 14 },
  s: { fontSize: 9, fontFamily: FONT, color: "#262626", lineHeight: 8, verticalAlign: "bottom" },
  u: { fontSize: 8, fontFamily: FONT, color: "#262626", lineHeight: 8, verticalAlign: "top" },
};

type R = [number, number];
interface Part {
  title: string; ox: number; oy: number; gap: number; xMax: number; gridStep: number;
  z: number[]; zdt: number; zR: R; zT: number[];
  p: number[]; pR: R; pT: number[]; pBand: number; pEv: number[][];
  e: number[]; ed: number[]; eR: R; eT: number[];
  s: number[]; sd: number[]; sR: R; sT: number[];
  x: number[]; xR: R; xT: number[]; xBand: number; xEv: number[][];
  rr: number[]; rrR: R; rrT: number[];
  gX: R; gR: R; gT: number[]; g: number[][]; gw: number[][];
  hX: R; hR: R; hT: number[]; h: number[][]; hw: number[][];
}

const PARTS: Part[] = [
  { title: "Participant 5", ox: 41, oy: 0, gap: 22, xMax: 32.7, gridStep: 3.33,
    z: p5Z, zdt: 0.5, zR: [6, 9.5], zT: [6, 8],
    p: p5P, pR: [0, 0.04], pT: [0, 0.02], pBand: 0.0325, pEv: p5PEv,
    e: p5E, ed: p5Ed, eR: [0, 1.5], eT: [0, 0.5, 1],
    s: p5S, sd: p5Sd, sR: [6, 8.95], sT: [6, 7, 8],
    x: p5X, xR: [-1.35, 4.4], xT: [0, 2, 4], xBand: -1.0, xEv: p5XEv,
    rr: p5RR, rrR: [0.52, 1.02], rrT: [0.6, 0.8, 1],
    gX: [-1.1, 8.5], gR: [7.87, 8.67], gT: [8, 8.5], g: [p5gG, p5gM, p5gR], gw: [p5gGw, p5gMw, p5gRw],
    hX: [-1.15, 8.65], hR: [1.43, 2.63], hT: [1.5, 2, 2.5], h: [p5hG, p5hM, p5hR], hw: [p5hGw, p5hMw, p5hRw] },
  { title: "Participant 6", ox: 417, oy: 0, gap: 24, xMax: 33.3, gridStep: 3.3,
    z: p6Z, zdt: 0.25, zR: [4.3, 8.2], zT: [6, 8],
    p: p6P, pR: [0, 0.04], pT: [0, 0.02], pBand: 0.0345, pEv: p6PEv,
    e: p6E, ed: p6Ed, eR: [0, 5.2], eT: [0, 5],
    s: p6S, sd: p6Sd, sR: [3.9, 6.05], sT: [4, 5, 6],
    x: p6X, xR: [-3.1, 3.1], xT: [-2, 0, 2], xBand: -2.75, xEv: p6XEv,
    rr: p6RR, rrR: [0.5, 1.03], rrT: [0.5, 1],
    gX: [-1, 8.6], gR: [4.95, 6.75], gT: [5, 6], g: [p6gG, p6gM, p6gR], gw: [p6gGw, p6gMw, p6gRw],
    hX: [-1, 8.6], hR: [-1, 0.55], hT: [-1, -0.5, 0], h: [p6hG, p6hM, p6hR], hw: [p6hGw, p6hMw, p6hRw] },
  { title: "Participant 7", ox: 41, oy: 449, gap: 22, xMax: 32.5, gridStep: 3.24,
    z: p7Z, zdt: 0.5, zR: [0.65, 2.6], zT: [1, 2],
    p: p7P, pR: [0, 0.056], pT: [0, 0.05], pBand: 0.049, pEv: p7PEv,
    e: p7E, ed: p7Ed, eR: [0, 1.0], eT: [0, 0.5, 1],
    s: p7S, sd: p7Sd, sR: [0.72, 2.12], sT: [1, 1.5, 2],
    x: p7X, xR: [-3.5, 2.5], xT: [-2, 0, 2], xBand: -3.0, xEv: p7XEv,
    rr: p7RR, rrR: [0.69, 1.16], rrT: [0.8, 1],
    gX: [-0.9, 8.5], gR: [1, 1.4], gT: [1, 1.2, 1.4], g: [p7gG, p7gM, p7gR], gw: [p7gGw, p7gMw, p7gRw],
    hX: [-1.1, 8.7], hR: [-1.52, -0.55], hT: [-1.5, -1], h: [p7hG, p7hM, p7hR], hw: [p7hGw, p7hMw, p7hRw] },
  { title: "Participant 8", ox: 417, oy: 449, gap: 24, xMax: 33.8, gridStep: 3.33,
    z: p8Z, zdt: 0.25, zR: [3.9, 8.25], zT: [4, 6, 8],
    p: p8P, pR: [0, 0.08], pT: [0, 0.05], pBand: 0.07, pEv: p8PEv,
    e: p8E, ed: p8Ed, eR: [0, 4.1], eT: [0, 2, 4],
    s: p8S, sd: p8Sd, sR: [3.9, 6.05], sT: [4, 5, 6],
    x: p8X, xR: [-4.2, 3.3], xT: [-4, -2, 0, 2], xBand: -3.8, xEv: p8XEv,
    rr: p8RR, rrR: [0.54, 0.81], rrT: [0.6, 0.7, 0.8],
    gX: [-1, 8.6], gR: [4.49, 5.27], gT: [4.5, 5], g: [p8gG, p8gM, p8gR], gw: [p8gGw, p8gMw, p8gRw],
    hX: [-1.07, 8.63], hR: [-1.02, 0.11], hT: [-1, -0.5, 0], h: [p8hG, p8hM, p8hR], hw: [p8hGw, p8hMw, p8hRw] },
];

const ROWS: R[] = [[17, 58], [76, 119], [137, 179], [197, 239], [258, 298], [317, 360]];
const GH: R = [386, 421];
const NAMES = [
  "{n|(a) z }{s|k}", "{n|(b) p}{s|k}", "{n|(c) e}{u|r}{s|k}", "{n|(d) s}{s|k}",
  "{n|(e) x}{s|k}", "{n|(f) rr}{s|i}", "{n|(g) z}{s|k}", "{n|(h) x}{s|k}",
];

const ts = (arr: number[], dt: number) => arr.map((v, i) => [Math.round(i * dt * 1000) / 1000, v]);

function buildOption() {
  const grid: any[] = [], xAxis: any[] = [], yAxis: any[] = [], series: any[] = [], graphic: any[] = [];
  const tickStyle = { color: "#262626", width: 1 };
  const split = { show: true, lineStyle: { color: "#e4e4e4", width: 1 } };
  const lab = { fontSize: 10, color: "#333", fontFamily: FONT };

  const addY = (gi: number, r: R, ticks: number[], name: string, gap: number) => {
    yAxis.push({
      type: "value", gridIndex: gi, min: r[0], max: r[1],
      axisLine: { show: false },
      axisTick: { show: true, inside: true, length: 3, customValues: ticks, lineStyle: tickStyle },
      axisLabel: { ...lab, customValues: ticks, margin: 2 },
      splitLine: split,
      name, nameLocation: "middle", nameRotate: 90, nameGap: gap,
      nameTextStyle: { rich: RICH },
    });
  };
  const line = (gi: number, data: any[], color: string, width: number, extra: any = {}) => {
    series.push({
      type: "line", xAxisIndex: gi, yAxisIndex: gi, data, showSymbol: false, silent: true,
      lineStyle: { color, width, ...(extra.lineStyle || {}) }, z: extra.z || 2,
    });
  };
  const segs = (gi: number, ev: number[][], y: number, width: number) => {
    series.push({
      type: "lines", coordinateSystem: "cartesian2d", xAxisIndex: gi, yAxisIndex: gi, silent: true,
      data: ev.map(([a, b]) => ({ coords: [[a, y], [b, y]] })),
      lineStyle: { color: "#000", width, opacity: 1 }, z: 6,
    });
  };
  const band = (gi: number, xr: R, yr: R, mid: number[], hw: number[], fill: string) => {
    series.push({
      type: "custom", xAxisIndex: gi, yAxisIndex: gi, silent: true, z: 1,
      data: [[TS[0], mid[0]]],
      renderItem: (_p: any, api: any) => {
        const cx = (t: number) => Math.min(xr[1], Math.max(xr[0], t));
        const cy = (v: number) => Math.min(yr[1], Math.max(yr[0], v));
        const up = TS.map((t, i) => api.coord([cx(t), cy(mid[i] + hw[i])]));
        const lo = TS.map((t, i) => api.coord([cx(t), cy(mid[i] - hw[i])])).reverse();
        return { type: "polygon", shape: { points: up.concat(lo) }, style: { fill } };
      },
    });
  };

  PARTS.forEach((P) => {
    const b = grid.length;
    const W = 310;
    graphic.push({
      type: "text", x: P.ox + W / 2 + 9, y: P.oy + 1,
      style: { text: P.title, font: `bold 14px ${FONT}`, fill: "#000", textAlign: "center" },
    });
    ROWS.forEach((r, k) => {
      grid.push({ left: P.ox, top: P.oy + r[0], width: W, height: r[1] - r[0], show: true,
        borderColor: "#262626", borderWidth: 1, backgroundColor: "#fff" });
      if (k < 5) {
        xAxis.push({ type: "value", gridIndex: b + k, min: 0, max: P.xMax, interval: P.gridStep,
          axisLine: { show: false }, axisLabel: { show: false },
          axisTick: { show: true, inside: true, length: 3, lineStyle: tickStyle }, splitLine: split });
      } else {
        xAxis.push({ type: "value", gridIndex: b + k, min: 0, max: P.xMax,
          axisLine: { show: false },
          axisTick: { show: true, inside: true, length: 3, customValues: TICKS_MIN, lineStyle: tickStyle },
          axisLabel: { ...lab, fontSize: 11, customValues: TICKS_MIN, margin: 0 }, splitLine: split,
          name: "Time (min)", nameLocation: "middle", nameGap: 12,
          nameTextStyle: { fontSize: 11, fontFamily: FONT, color: "#262626", padding: [0, 0, 0, 14] } });
      }
    });
    addY(b, P.zR, P.zT, NAMES[0], P.gap);
    addY(b + 1, P.pR, P.pT, NAMES[1], P.gap);
    addY(b + 2, P.eR, P.eT, NAMES[2], P.gap);
    addY(b + 3, P.sR, P.sT, NAMES[3], P.gap);
    addY(b + 4, P.xR, P.xT, NAMES[4], P.gap);
    addY(b + 5, P.rrR, P.rrT, NAMES[5], P.gap);

    line(b, ts(P.z, P.zdt), COL.z, 1);
    line(b + 1, [[0, P.pBand], [P.xMax, P.pBand]], COL.pBand, 3.5);
    segs(b + 1, P.pEv, P.pBand, 3.5);
    line(b + 1, ts(P.p, 0.5), COL.p, 1);
    line(b + 2, ts(P.e, 0.5), COL.e, 1);
    line(b + 2, ts(P.ed, 0.5), COL.dot, 1.6, { lineStyle: { type: [1.5, 2] }, z: 3 });
    line(b + 3, ts(P.s, 0.5), COL.s, 1);
    line(b + 3, ts(P.sd, 0.5), COL.sd, 1.6, { lineStyle: { type: [1.5, 2] }, z: 3 });
    line(b + 4, [[0, P.xBand], [P.xMax, P.xBand]], COL.xBand, 4);
    line(b + 4, [[0, P.xBand], [P.xMax, P.xBand]], "#2a7a7a", 1, { lineStyle: { type: [1, 4] }, z: 3 });
    segs(b + 4, P.xEv, P.xBand, 3.5);
    line(b + 4, ts(P.x, 0.5), COL.x, 1);
    series.push({ type: "scatter", xAxisIndex: b + 5, yAxisIndex: b + 5, data: ts(P.rr, 0.25), silent: true,
      symbolSize: 4.5, itemStyle: { color: COL.rrO, opacity: 0.9 }, z: 2 });
    line(b + 5, ts(P.rr, 0.25), COL.rr, 1.3, { z: 3 });

    const gw = 133, hw = 135, hx = P.ox + 176;
    [[P.ox, gw, P.gX, P.gR, P.gT, P.g, P.gw, NAMES[6], 22], [hx, hw, P.hX, P.hR, P.hT, P.h, P.hw, NAMES[7], 21]].forEach(
      (cfg: any) => {
        const [left, width, xr, yr, yt, lines, ws, nm, ng] = cfg;
        const gi = grid.length;
        grid.push({ left, top: P.oy + GH[0], width, height: GH[1] - GH[0], show: true,
          borderColor: "#262626", borderWidth: 1, backgroundColor: "#fff" });
        xAxis.push({ type: "value", gridIndex: gi, min: xr[0], max: xr[1], axisLine: { show: false },
          axisTick: { show: true, inside: true, length: 3, customValues: TICKS_S, lineStyle: tickStyle },
          axisLabel: { ...lab, fontSize: 12, customValues: TICKS_S, margin: 4 }, splitLine: split,
          name: "Time (s)", nameLocation: "middle", nameGap: 17,
          nameTextStyle: { fontSize: 13, fontFamily: FONT, color: "#262626" } });
        addY(gi, yr, yt, nm, ng);
        const fills = [COL.bG, COL.bM, COL.bR];
        const cols = [COL.gG, COL.gM, COL.gR];
        [0, 1, 2].forEach((q) => band(gi, xr, yr, lines[q], ws[q], fills[q]));
        [0, 1, 2].forEach((q) => line(gi, TS.map((t, i) => [t, lines[q][i]]), cols[q], 1.8, { z: 3 + q }));
      }
    );
  });

  return { animation: false, backgroundColor: "#fff", textStyle: { fontFamily: FONT }, grid, xAxis, yAxis, series, graphic };
}

export default function App() {
  const ref = useRef<HTMLDivElement>(null);
  useEffect(() => {
    document.body.style.margin = "0";
    const chart = echarts.init(ref.current!, null, { renderer: "svg" });
    chart.setOption(buildOption() as any);
    return () => chart.dispose();
  }, []);
  return <div ref={ref} style={{ width: 733, height: 900, background: "#fff" }} />;
}
